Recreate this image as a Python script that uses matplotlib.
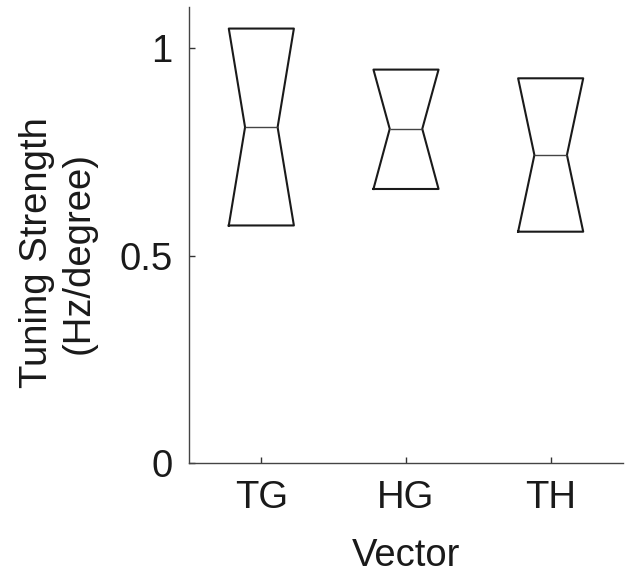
import matplotlib
matplotlib.use("Agg")
import matplotlib.pyplot as plt

categories = ["TG", "HG", "TH"]
q3 = [1.048, 0.949, 0.928]
medians = [0.810, 0.806, 0.743]
q1 = [0.573, 0.661, 0.558]

plt.rcParams['font.family'] = ['Liberation Sans', 'DejaVu Sans']

fig = plt.figure(figsize=(6.26, 5.75), dpi=100)
ax = fig.add_axes([189/626, 1 - 463/575, (623-189)/626, (463-7)/575])

stats = []
for c, hi, m, lo in zip(categories, q3, medians, q1):
    stats.append(dict(label=c, med=m, q1=lo, q3=hi, cilo=lo, cihi=hi,
                      whislo=lo, whishi=hi, fliers=[]))

ax.bxp(stats, positions=[1, 2, 3], widths=0.45, shownotches=True,
       showfliers=False, showcaps=False,
       boxprops=dict(color='#1a1a1a', linewidth=1.5),
       medianprops=dict(color='#444444', linewidth=1.0),
       whiskerprops=dict(linewidth=0))

ax.set_xlim(0.5, 3.5)
ax.set_ylim(0, 1.1)
ax.set_yticks([0, 0.5, 1])
ax.set_yticklabels(['0', '0.5', '1'])
ax.set_xticks([1, 2, 3])
ax.set_xticklabels(categories)

for s in ['top', 'right']:
    ax.spines[s].set_visible(False)
for s in ['left', 'bottom']:
    ax.spines[s].set_color('#444444')
    ax.spines[s].set_linewidth(1.0)

ax.tick_params(direction='in', length=4, width=1, color='#333333',
               labelsize=27.5, pad=12, labelcolor='#1a1a1a')

ax.set_xlabel('Vector', fontsize=27.5, color='#1a1a1a', labelpad=16)
ax.set_ylabel('Tuning Strength\n(Hz/degree)', fontsize=27.5, color='#1a1a1a',
              linespacing=1.2)
ax.yaxis.set_label_coords((97 - 189) / 434, (463 - 253) / 456)

fig.savefig('out.png', dpi=100)
